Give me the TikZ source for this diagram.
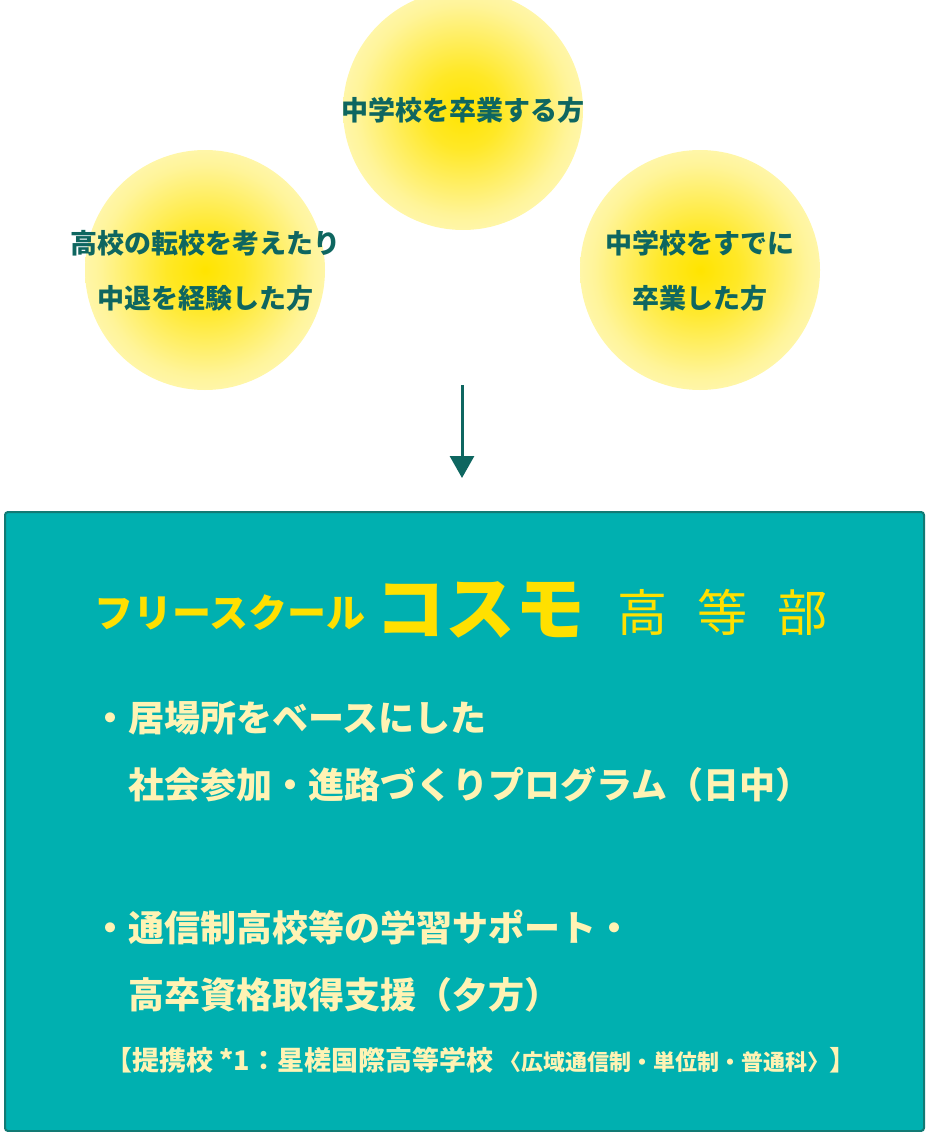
\documentclass[tikz,border=0pt]{standalone}
\usepackage{fontspec}
\newfontfamily\cjk{Noto Sans CJK JP}
\usetikzlibrary{arrows.meta,positioning}
\definecolor{glowY}{HTML}{FFE400}
\definecolor{inkTeal}{HTML}{0E6660}
\definecolor{boxTeal}{HTML}{00B0B0}
\definecolor{boxEdge}{HTML}{127A74}
\definecolor{titleY}{HTML}{FFE000}
\definecolor{cream}{HTML}{FFF3B4}
\pgfdeclareradialshading{glow}{\pgfpoint{0bp}{0bp}}{color(0bp)=(glowY); color(8bp)=(glowY!85!white); color(22bp)=(glowY!40!white); color(38bp)=(glowY!8!white); color(50bp)=(white); color(100bp)=(white)}
\tikzset{
  spot/.style={circle,shading=glow,minimum size=240pt,inner sep=0pt},
  who/.style={font=\cjk\bfseries\fontsize{27}{27}\selectfont,text=inkTeal,align=center,inner sep=0pt},
  body/.style={font=\cjk\bfseries\fontsize{36}{36}\selectfont,text=cream,anchor=west,inner sep=0pt}
}
\begin{document}
\begin{tikzpicture}[x=1pt,y=-1pt]
  \useasboundingbox (0,0) rectangle (926,1132);

  % glows
  \node[spot] (g1) at (463,110) {};
  \node[spot] (g2) at (205,270) {};
  \node[spot] (g3) at (700,270) {};
  \node[who] (t1) at (g1) {中学校を卒業する方};
  \node[who] (t2a) at (205,243) {高校の転校を考えたり};
  \node[who] (t2b) at (205,298) {中退を経験した方};
  \node[who] (t3a) at (700,243) {中学校をすでに};
  \node[who] (t3b) at (700,298) {卒業した方};

  % arrow
  \coordinate (a0) at (462,385);
  \coordinate (a1) at (462,478);
  \draw[inkTeal,line width=3pt,-{Triangle[length=22pt,width=24pt]}] (a0) -- (a1);

  % box
  \node[draw=boxEdge,line width=2pt,fill=boxTeal,rounded corners=3pt,
        minimum width=919pt,minimum height=619pt,anchor=north west,inner sep=0pt]
        (box) at (4,511) {};

  % title
  \node[font=\cjk\bfseries\fontsize{39}{39}\selectfont,text=titleY,inner sep=0pt] (free) at (230,613) {フリースクール};
  \node[font=\cjk\bfseries\fontsize{70}{70}\selectfont,text=titleY,inner sep=0pt] (cosmo) at (480,610) {コスモ};
  \node[font=\cjk\fontsize{50}{50}\selectfont,text=titleY,inner sep=0pt] (dept) at (722,612) {高\hspace{30pt}等\hspace{30pt}部};

  % items
  \node[body] (b1) at (92,718) {・居場所をベースにした};
  \node[body] (b2) at (128,785) {社会参加・進路づくりプログラム（日中）};
  \node[body] (b3) at (92,928) {・通信制高校等の学習サポート・};
  \node[body] (b4) at (128,995) {高卒資格取得支援（夕方）};
  \node[body,font=\cjk\bfseries\fontsize{27}{27}\selectfont] (note) at (105,1060)
    {【提携校 *1：星槎国際高等学校 {\fontsize{22}{22}\selectfont〈広域通信制・単位制・普通科〉}】};
\end{tikzpicture}
\end{document}
